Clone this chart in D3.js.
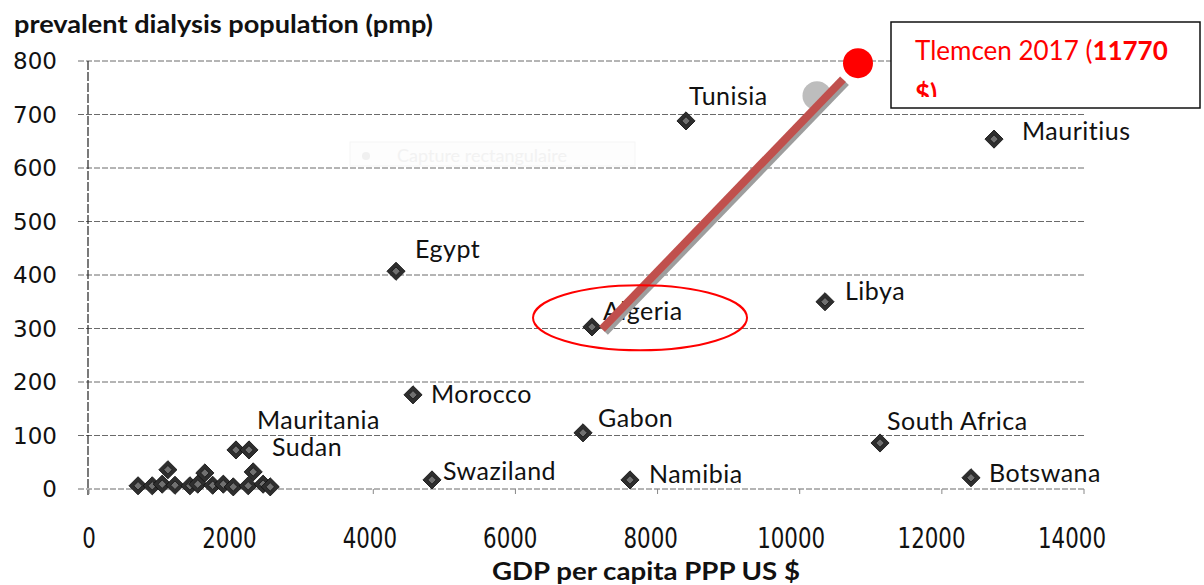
<!DOCTYPE html>
<html>
<head>
<meta charset="utf-8">
<script src="https://cdn.jsdelivr.net/npm/d3@7"></script>
<style>
  body { margin: 0; background: #fff; }
</style>
</head>
<body>
<div id="chart"></div>
<script>
// labelled countries
const countries = ["Tunisia", "Mauritius", "Egypt", "Libya", "Algeria", "Morocco", "Gabon",
  "South Africa", "Swaziland", "Namibia", "Botswana", "Mauritania", "Sudan"];
const gdpPpp = [8400, 12734, 4320, 10356, 7077, 4559, 6951, 11130, 4826, 7612, 12410, 2068, 2251];
const dialysisPmp = [688, 654, 407, 350, 303, 176, 105, 86, 17, 17, 21, 73, 73];

// unlabelled points packed near the origin
const clusterGdp = [690, 890, 1030, 1110, 1210, 1420, 1530, 1630, 1740, 1890, 2030, 2240, 2310, 2450, 2550];
const clusterPmp = [6, 6, 9, 36, 7, 6, 9, 30, 7, 9, 4, 6, 32, 9, 4];

const xTicks = [0, 2000, 4000, 6000, 8000, 10000, 12000, 14000];
const yTicks = [0, 100, 200, 300, 400, 500, 600, 700, 800];

// Tlemcen overlay
const tlemcenPoint = [10820, 796];
const tlemcenShadow = [10243, 735];
const arrowFrom = [7218, 299];
const arrowTo = [10609, 766];
const ellipseCenter = [7753, 320];

// label offsets from marker (px)
const labelOffset = {
  "Tunisia": [3, -16], "Mauritius": [28, 1], "Egypt": [19, -13], "Libya": [20, -2],
  "Algeria": [11, -7], "Morocco": [18, 8], "Gabon": [15, -6], "South Africa": [7, -13],
  "Swaziland": [11, 0], "Namibia": [19, 3], "Botswana": [18, 4], "Mauritania": [21, -21],
  "Sudan": [23, 6]
};

const W = 1204, H = 585;
const x = d3.scaleLinear().domain([0, 14000]).range([89, 1084]);
const y = d3.scaleLinear().domain([0, 800]).range([489, 61]);

const svg = d3.select('#chart').append('svg')
  .attr('width', W).attr('height', H)
  .style('font-family', 'Lato, "Open Sans", sans-serif');

// faint leftover screenshot tooltip
const ghost = svg.append('g').attr('class', 'ghost');
ghost.append('rect').attr('x', 350).attr('y', 142).attr('width', 285).attr('height', 24)
  .attr('fill', '#fdfdfd').attr('stroke', '#f5f5f5');
ghost.append('circle').attr('cx', 366).attr('cy', 156).attr('r', 4).attr('fill', '#f0f0f0');
ghost.append('text').attr('x', 397).attr('y', 162).text('Capture rectangulaire')
  .style('font-size', '18px').attr('fill', '#f2f2f2');

// grid lines
svg.append('g').attr('class', 'grid')
  .selectAll('line').data(yTicks).enter().append('line')
  .attr('x1', 78).attr('x2', x(14000) + 1)
  .attr('y1', d => y(d)).attr('y2', d => y(d))
  .attr('stroke', '#6a6a6a').attr('stroke-width', 1)
  .attr('stroke-dasharray', '6,2');

// y axis line
svg.append('line')
  .attr('x1', x(0) - 1).attr('x2', x(0) - 1)
  .attr('y1', y(800)).attr('y2', y(0) + 6)
  .attr('stroke', '#222').attr('stroke-width', 1.2)
  .attr('stroke-dasharray', '9,2');

// x axis ticks below the zero line
svg.append('g').attr('class', 'xticks')
  .selectAll('line').data(xTicks).enter().append('line')
  .attr('x1', d => x(d)).attr('x2', d => x(d))
  .attr('y1', y(0)).attr('y2', y(0) + 5)
  .attr('stroke', '#888');

// y tick labels
svg.append('g').attr('class', 'ylabels')
  .selectAll('text').data(yTicks).enter().append('text')
  .attr('x', 57).attr('y', d => y(d))
  .attr('dy', '0.36em')
  .attr('text-anchor', 'end')
  .style('font-family', '"DejaVu Sans", sans-serif')
  .style('font-size', '23px')
  .attr('fill', '#111')
  .text(d => d);

// x tick labels (narrow, tall digits)
svg.append('g').attr('class', 'xlabels')
  .selectAll('text').data(xTicks).enter().append('text')
  .attr('x', d => x(d) - d / 14000 * 12)
  .attr('y', 548)
  .attr('text-anchor', 'middle')
  .attr('textLength', d => String(d).length * 13.6)
  .attr('lengthAdjust', 'spacingAndGlyphs')
  .style('font-family', '"DejaVu Sans", sans-serif')
  .style('font-size', '29px')
  .attr('fill', '#111')
  .text(d => d);

// titles
svg.append('text').attr('x', 14).attr('y', 33)
  .attr('textLength', 419).attr('lengthAdjust', 'spacingAndGlyphs')
  .style('font-weight', 'bold').style('font-size', '25px').attr('fill', '#111')
  .text('prevalent dialysis population (pmp)');

svg.append('text').attr('x', 492).attr('y', 580)
  .attr('textLength', 308).attr('lengthAdjust', 'spacingAndGlyphs')
  .style('font-weight', 'bold').style('font-size', '24px').attr('fill', '#111')
  .text('GDP  per capita  PPP US $');

// markers
const diamond = d3.symbol().type(d3.symbolSquare).size(165);
const inner = d3.symbol().type(d3.symbolSquare).size(36);

const points = countries.map((c, i) => ({ name: c, gdp: gdpPpp[i], pmp: dialysisPmp[i] }))
  .concat(clusterGdp.map((g, i) => ({ name: null, gdp: g, pmp: clusterPmp[i] })));

const marks = svg.append('g').attr('class', 'marks')
  .selectAll('g').data(points).enter().append('g')
  .attr('transform', d => `translate(${x(d.gdp)},${y(d.pmp)}) rotate(45)`);
marks.append('path').attr('d', diamond)
  .attr('fill', '#2e2e2e').attr('stroke', '#111').attr('stroke-width', 0.8);
marks.append('path').attr('d', inner)
  .attr('fill', '#707070').attr('stroke', '#1a1a1a').attr('stroke-width', 0.8);

// country labels
svg.append('g').attr('class', 'labels')
  .selectAll('text').data(points.filter(d => d.name)).enter().append('text')
  .attr('x', d => x(d.gdp) + labelOffset[d.name][0])
  .attr('y', d => y(d.pmp) + labelOffset[d.name][1])
  .style('font-size', '25px')
  .style('letter-spacing', '0.5px')
  .attr('fill', '#111')
  .text(d => d.name);

// Tlemcen overlay: grey old point, shadowed line, red point, ellipse
svg.append('circle')
  .attr('cx', x(tlemcenShadow[0])).attr('cy', y(tlemcenShadow[1])).attr('r', 14.5)
  .attr('fill', '#bdbdbd');

svg.append('line')
  .attr('x1', x(arrowFrom[0]) + 3).attr('y1', y(arrowFrom[1]) + 3)
  .attr('x2', x(arrowTo[0]) + 3).attr('y2', y(arrowTo[1]) + 3)
  .attr('stroke', '#9e9e9e').attr('stroke-width', 8);
svg.append('line')
  .attr('x1', x(arrowFrom[0])).attr('y1', y(arrowFrom[1]))
  .attr('x2', x(arrowTo[0])).attr('y2', y(arrowTo[1]))
  .attr('stroke', '#c0504d').attr('stroke-width', 8);

svg.append('circle')
  .attr('cx', x(tlemcenPoint[0])).attr('cy', y(tlemcenPoint[1])).attr('r', 15)
  .attr('fill', '#ff0000');

svg.append('ellipse')
  .attr('cx', x(ellipseCenter[0])).attr('cy', y(ellipseCenter[1]))
  .attr('rx', 107).attr('ry', 32.5)
  .attr('fill', 'none').attr('stroke', '#ff0000').attr('stroke-width', 2);

// annotation box
const box = svg.append('g').attr('class', 'note');
box.append('rect').attr('x', 891).attr('y', 22).attr('width', 309).attr('height', 86)
  .attr('fill', '#fff').attr('stroke', '#111').attr('stroke-width', 1.5);
box.append('clipPath').attr('id', 'noteclip')
  .append('rect').attr('x', 891).attr('y', 22).attr('width', 309).attr('height', 75);
const noteText = box.append('g').attr('clip-path', 'url(#noteclip)')
  .style('font-size', '26px').attr('fill', '#ff0000');
const l1 = noteText.append('text').attr('x', 915).attr('y', 60);
l1.append('tspan').text('Tlemcen 2017 (');
l1.append('tspan').style('font-weight', 'bold').text('11770');
noteText.append('text').attr('x', 915).attr('y', 103)
  .style('font-weight', 'bold').text('$)');
</script>
</body>
</html>
